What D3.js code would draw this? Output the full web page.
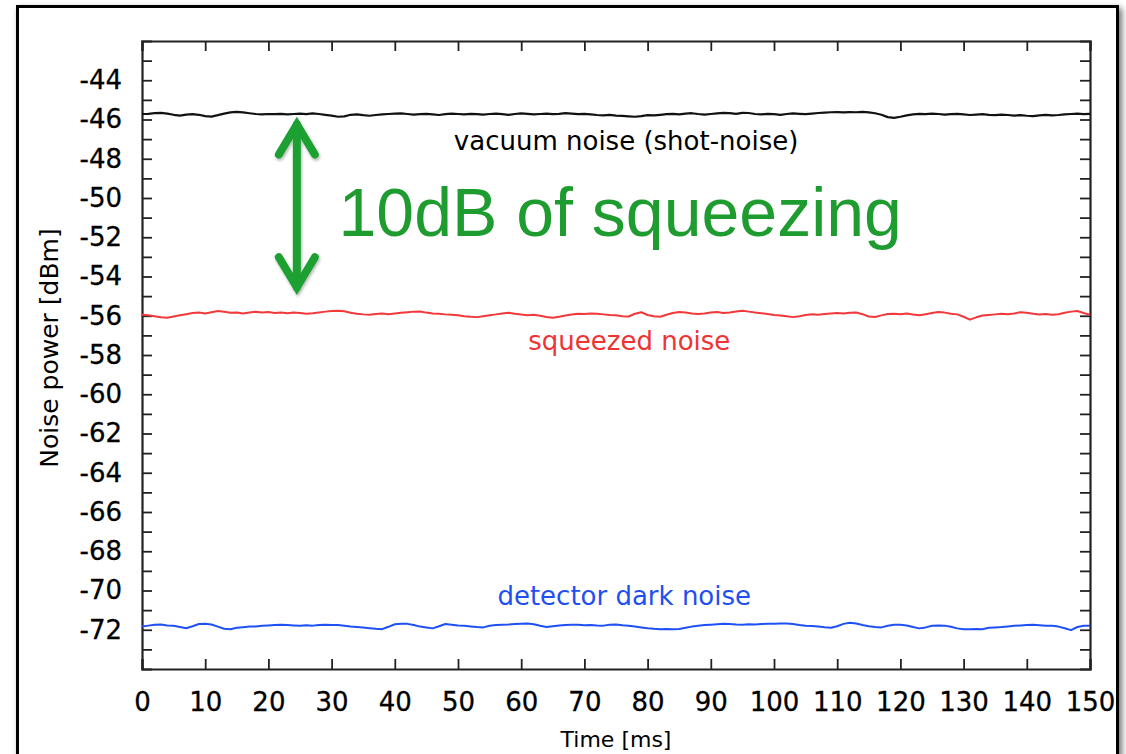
<!DOCTYPE html>
<html>
<head>
<meta charset="utf-8">
<script src="https://cdn.jsdelivr.net/npm/d3@7"></script>
<style>
  html, body { margin: 0; padding: 0; background: #fff; }
  svg { display: block; }
  text { font-family: "DejaVu Sans", sans-serif; }
</style>
</head>
<body>
<svg id="chart" width="1126" height="754"></svg>
<script>
// Time axis, one sample per millisecond
const timeMs = d3.range(0, 151);

// Noise power traces in dBm
const vacuumNoise = [
  -45.72,-45.71,-45.68,-45.66,-45.70,-45.76,-45.80,-45.75,-45.73,-45.76,
  -45.83,-45.85,-45.78,-45.70,-45.64,-45.61,-45.64,-45.68,-45.72,-45.74,
  -45.72,-45.73,-45.71,-45.74,-45.72,-45.70,-45.73,-45.69,-45.72,-45.76,
  -45.80,-45.86,-45.84,-45.76,-45.74,-45.78,-45.81,-45.77,-45.74,-45.72,
  -45.70,-45.69,-45.72,-45.75,-45.73,-45.71,-45.74,-45.77,-45.73,-45.70,
  -45.72,-45.74,-45.71,-45.73,-45.75,-45.72,-45.70,-45.73,-45.76,-45.72,
  -45.69,-45.71,-45.74,-45.72,-45.70,-45.73,-45.71,-45.68,-45.70,-45.73,
  -45.71,-45.74,-45.77,-45.79,-45.76,-45.80,-45.82,-45.84,-45.86,-45.83,
  -45.78,-45.79,-45.76,-45.73,-45.71,-45.74,-45.70,-45.68,-45.72,-45.75,
  -45.72,-45.69,-45.66,-45.68,-45.71,-45.66,-45.67,-45.72,-45.74,-45.71,
  -45.73,-45.76,-45.72,-45.69,-45.71,-45.73,-45.70,-45.67,-45.65,-45.63,
  -45.62,-45.64,-45.62,-45.63,-45.61,-45.64,-45.68,-45.76,-45.88,-45.92,
  -45.86,-45.79,-45.74,-45.71,-45.73,-45.70,-45.72,-45.75,-45.73,-45.71,
  -45.74,-45.77,-45.75,-45.73,-45.76,-45.78,-45.75,-45.77,-45.80,-45.78,
  -45.81,-45.83,-45.79,-45.76,-45.79,-45.77,-45.74,-45.72,-45.70,-45.73,
  -45.71
];

const squeezedNoise = [
  -55.95,-55.97,-56.02,-56.08,-56.10,-56.04,-55.98,-55.92,-55.86,-55.84,
  -55.88,-55.82,-55.76,-55.80,-55.85,-55.83,-55.88,-55.84,-55.80,-55.83,
  -55.81,-55.86,-55.84,-55.87,-55.83,-55.86,-55.90,-55.87,-55.83,-55.79,
  -55.76,-55.74,-55.77,-55.85,-55.90,-55.93,-55.95,-55.91,-55.89,-55.92,
  -55.88,-55.85,-55.82,-55.79,-55.78,-55.84,-55.88,-55.90,-55.93,-55.95,
  -55.98,-56.02,-56.05,-56.07,-56.02,-55.97,-55.93,-55.88,-55.85,-55.90,
  -55.94,-55.97,-55.95,-56.00,-56.06,-56.10,-56.05,-55.99,-55.94,-55.90,
  -55.91,-55.89,-55.90,-55.93,-55.96,-55.98,-56.02,-56.04,-55.90,-55.82,
  -55.96,-56.03,-56.05,-55.95,-55.86,-55.81,-55.83,-55.88,-55.91,-55.89,
  -55.84,-55.81,-55.86,-55.83,-55.78,-55.74,-55.79,-55.84,-55.87,-55.91,
  -55.96,-55.99,-56.03,-56.07,-56.02,-55.96,-55.92,-55.95,-55.91,-55.88,
  -55.86,-55.89,-55.85,-55.83,-55.92,-56.04,-56.06,-55.98,-55.91,-55.90,
  -55.92,-55.89,-55.94,-55.98,-55.92,-55.86,-55.81,-55.84,-55.90,-55.93,
  -56.05,-56.20,-56.08,-55.99,-55.96,-55.93,-55.90,-55.92,-55.88,-55.82,
  -55.85,-55.90,-55.94,-55.91,-55.95,-55.92,-55.85,-55.79,-55.76,-55.86,
  -55.95
];

const darkNoise = [
  -71.83,-71.79,-71.75,-71.73,-71.78,-71.80,-71.86,-71.92,-71.82,-71.71,
  -71.70,-71.73,-71.84,-71.95,-71.97,-71.90,-71.87,-71.84,-71.83,-71.80,
  -71.78,-71.76,-71.74,-71.76,-71.78,-71.80,-71.77,-71.79,-71.76,-71.74,
  -71.76,-71.76,-71.80,-71.84,-71.86,-71.89,-71.92,-71.95,-71.97,-71.85,
  -71.72,-71.69,-71.70,-71.76,-71.84,-71.88,-71.93,-71.82,-71.71,-71.74,
  -71.78,-71.80,-71.83,-71.86,-71.88,-71.80,-71.76,-71.74,-71.73,-71.71,
  -71.69,-71.68,-71.72,-71.80,-71.86,-71.82,-71.78,-71.76,-71.74,-71.75,
  -71.77,-71.76,-71.78,-71.79,-71.74,-71.73,-71.77,-71.80,-71.84,-71.88,
  -71.92,-71.95,-71.97,-71.96,-71.98,-71.96,-71.90,-71.84,-71.80,-71.76,
  -71.74,-71.72,-71.70,-71.71,-71.73,-71.74,-71.72,-71.73,-71.71,-71.70,
  -71.69,-71.68,-71.68,-71.71,-71.76,-71.80,-71.81,-71.83,-71.87,-71.90,
  -71.82,-71.70,-71.64,-71.68,-71.76,-71.82,-71.86,-71.88,-71.80,-71.75,
  -71.74,-71.78,-71.86,-71.93,-71.88,-71.80,-71.78,-71.79,-71.85,-71.93,
  -71.97,-71.98,-71.96,-71.97,-71.90,-71.88,-71.86,-71.83,-71.80,-71.78,
  -71.76,-71.75,-71.77,-71.79,-71.80,-71.84,-71.92,-72.02,-71.86,-71.80,
  -71.80
];

// Axis ticks
const xTickValues = d3.range(0, 151, 10);
const yTickValues = d3.range(-73, -42, 1);
const yLabelValues = d3.range(-72, -43, 2);

// Annotation values
const seriesLabels = ["vacuum noise (shot-noise)", "squeezed noise", "detector dark noise"];
const squeezeLabel = "10dB of squeezing";
const arrowTime = 24.5;
const arrowTop = -46.05;
const arrowBottom = -54.75;

const svg = d3.select("#chart");
const W = 1126, H = 754;
const margin = { left: 142, top: 41, right: 1126 - 1090, bottom: 754 - 669 };

const defs = svg.append("defs");
const shadow = defs.append("filter").attr("id", "frameShadow")
  .attr("x", "-5%").attr("y", "-5%").attr("width", "110%").attr("height", "110%");
shadow.append("feDropShadow").attr("dx", 3).attr("dy", 3)
  .attr("stdDeviation", 3).attr("flood-color", "#000").attr("flood-opacity", 0.55);
const arrowShadow = defs.append("filter").attr("id", "arrowShadow")
  .attr("x", "-50%").attr("y", "-20%").attr("width", "200%").attr("height", "140%");
arrowShadow.append("feDropShadow").attr("dx", 1).attr("dy", 2)
  .attr("stdDeviation", 1.5).attr("flood-color", "#000").attr("flood-opacity", 0.3);

// Outer framed panel
svg.append("rect")
  .attr("x", 17.5).attr("y", 6.5).attr("width", 1100).attr("height", 770)
  .attr("fill", "#fff").attr("stroke", "#000").attr("stroke-width", 3)
  .attr("filter", "url(#frameShadow)");

const x = d3.scaleLinear().domain([0, 150]).range([margin.left, W - margin.right]);
const y = d3.scaleLinear().domain([-74, -42]).range([H - margin.bottom, margin.top]);

const axisColor = "#222";

// Bottom axis with labels, ticks pointing inward
const gx = svg.append("g")
  .attr("transform", `translate(0,${y(-74)})`)
  .call(d3.axisBottom(x).tickValues(xTickValues).tickSize(-10).tickPadding(24)
    .tickFormat(d3.format("d")));
// Top axis, ticks only
const gxTop = svg.append("g")
  .attr("transform", `translate(0,${y(-42)})`)
  .call(d3.axisTop(x).tickValues(xTickValues).tickSize(-10).tickFormat(""));
// Left axis with labels on even values
const gy = svg.append("g")
  .attr("transform", `translate(${x(0)},0)`)
  .call(d3.axisLeft(y).tickValues(yTickValues).tickSize(-10).tickPadding(20)
    .tickFormat(d => yLabelValues.includes(d) ? d3.format("d")(d) : ""));
// Right axis, ticks only
const gyRight = svg.append("g")
  .attr("transform", `translate(${x(150)},0)`)
  .call(d3.axisRight(y).tickValues(yTickValues).tickSize(-10).tickFormat(""));

[gx, gxTop, gy, gyRight].forEach(g => {
  g.select(".domain").attr("stroke", axisColor).attr("stroke-width", 2.2);
  g.selectAll(".tick line").attr("stroke", axisColor).attr("stroke-width", 1.8);
  g.selectAll(".tick text").attr("fill", "#000")
    .attr("stroke", "#000").attr("stroke-width", 0.3)
    .style("font-family", "'DejaVu Sans', sans-serif").style("font-size", "26px");
});
gy.selectAll(".tick text").text(d => yLabelValues.includes(d) ? String(d) : "");

// Traces
const line = d3.line().x((d, i) => x(timeMs[i])).y(d => y(d));
const traces = [
  { values: vacuumNoise, color: "#111111", width: 2.2 },
  { values: squeezedNoise, color: "#f2383a", width: 2.0 },
  { values: darkNoise, color: "#1e50f5", width: 2.0 }
];
svg.append("g").selectAll("path").data(traces).join("path")
  .attr("d", d => line(d.values))
  .attr("fill", "none")
  .attr("stroke", d => d.color)
  .attr("stroke-width", d => d.width)
  .attr("stroke-linejoin", "round");

// Trace labels
const labelSpec = [
  { text: seriesLabels[0], t: 76.6, v: vacuumNoise, dy: 36, color: "#000" },
  { text: seriesLabels[1], t: 77.1, v: squeezedNoise, dy: 36, color: "#ef3333" },
  { text: seriesLabels[2], t: 76.3, v: darkNoise, dy: -21, color: "#1f4ff0" }
];
svg.append("g").selectAll("text").data(labelSpec).join("text")
  .attr("x", d => x(d.t))
  .attr("y", d => y(d3.mean(d.v)) + d.dy)
  .attr("text-anchor", "middle")
  .attr("fill", d => d.color)
  .style("font-size", "26px")
  .text(d => d.text);

// Squeezing annotation: double-headed arrow and label
const green = "#1ca032";
const ax = x(arrowTime), ay1 = y(arrowTop), ay2 = y(arrowBottom);
const head = 34, spread = 18;
const arrow = svg.append("g").attr("filter", "url(#arrowShadow)")
  .attr("stroke", green).attr("stroke-width", 8).attr("fill", "none")
  .attr("stroke-linecap", "round").attr("stroke-linejoin", "miter");
arrow.append("path").attr("d", `M${ax},${ay1 + 4}V${ay2 - 4}`);
arrow.append("path").attr("d", `M${ax - spread},${ay1 + head}L${ax},${ay1 + 4}L${ax + spread},${ay1 + head}`);
arrow.append("path").attr("d", `M${ax - spread},${ay2 - head}L${ax},${ay2 - 4}L${ax + spread},${ay2 - head}`);

svg.append("text")
  .attr("x", x(31.1)).attr("y", y(-51.95))
  .attr("fill", "#1e9c30")
  .style("font-family", "'Liberation Sans', Arial, sans-serif")
  .style("font-size", "68px")
  .text(squeezeLabel);

// Axis titles
svg.append("text")
  .attr("transform", `translate(58,348) rotate(-90)`)
  .attr("text-anchor", "middle")
  .style("font-size", "25px")
  .text("Noise power [dBm]");
svg.append("text")
  .attr("x", x(75)).attr("y", 747)
  .attr("text-anchor", "middle")
  .style("font-size", "22px")
  .text("Time [ms]");
</script>
</body>
</html>
